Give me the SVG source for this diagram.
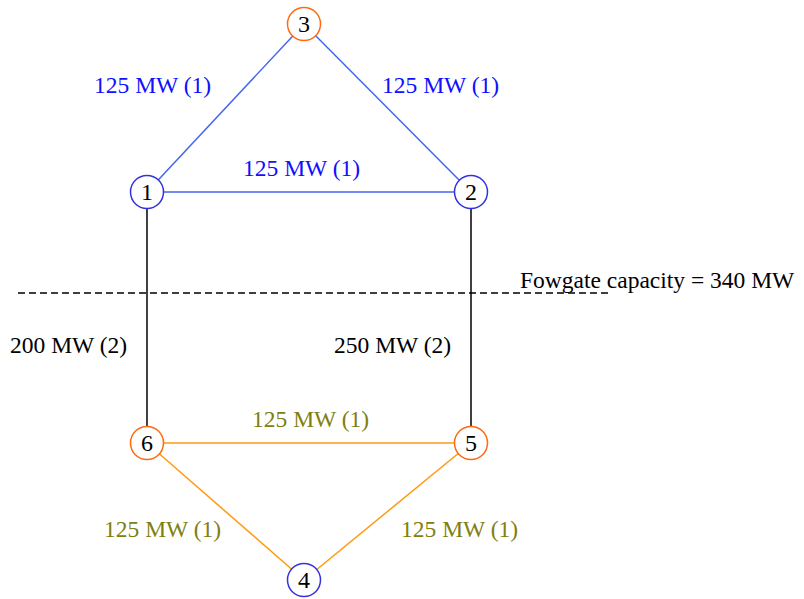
<svg xmlns="http://www.w3.org/2000/svg" width="804" height="599" viewBox="0 0 804 599">
<style>
text{font-family:"Liberation Serif","DejaVu Serif",serif;font-size:23.5px}
.node circle{fill:#fff;stroke-width:1.5}
.bn circle{stroke:#3333dd}
.on circle{stroke:#ff6a10}
.node text{text-anchor:middle;fill:#000;font-size:24px}
.blue{fill:#1010ff}
.olive{fill:#808010}
.blk{fill:#000}
</style>
<rect width="804" height="599" fill="#fff"/>
<g id="connectors" stroke-width="1.5" fill="none">
<line x1="147" y1="192" x2="304" y2="24" stroke="#4466ee"/>
<line x1="471" y1="192" x2="304" y2="24" stroke="#4466ee"/>
<line x1="147" y1="192" x2="471" y2="192" stroke="#4466ee"/>
<line x1="147" y1="192" x2="147" y2="443" stroke="#000"/>
<line x1="471" y1="192" x2="471" y2="443" stroke="#000"/>
<line x1="147" y1="443" x2="471" y2="443" stroke="#ff9a10"/>
<line x1="147" y1="443" x2="304" y2="580" stroke="#ff9a10"/>
<line x1="471" y1="443" x2="304" y2="580" stroke="#ff9a10"/>
<line x1="18" y1="293" x2="608" y2="293" stroke="#000" stroke-dasharray="7,4"/>
</g>
<g id="labels">
<text class="blue" x="94" y="93">125 MW (1)</text>
<text class="blue" x="382" y="93">125 MW (1)</text>
<text class="blue" x="243" y="176">125 MW (1)</text>
<text class="blk" x="520" y="288">Fowgate  capacity = 340 MW</text>
<text class="blk" x="10" y="353">200 MW (2)</text>
<text class="blk" x="334" y="353">250 MW (2)</text>
<text class="olive" x="252" y="427">125 MW (1)</text>
<text class="olive" x="104" y="537">125 MW (1)</text>
<text class="olive" x="401" y="537">125 MW (1)</text>
</g>
<g id="n3" class="node on"><circle cx="304" cy="24" r="16.5"/><text x="304" y="32">3</text></g>
<g id="n1" class="node bn"><circle cx="147" cy="192" r="16.5"/><text x="147" y="200">1</text></g>
<g id="n2" class="node bn"><circle cx="471" cy="192" r="16.5"/><text x="471" y="200">2</text></g>
<g id="n6" class="node on"><circle cx="147" cy="443" r="16.5"/><text x="147" y="451">6</text></g>
<g id="n5" class="node on"><circle cx="471" cy="443" r="16.5"/><text x="471" y="451">5</text></g>
<g id="n4" class="node bn"><circle cx="304" cy="580" r="16.5"/><text x="304" y="588">4</text></g>
</svg>
